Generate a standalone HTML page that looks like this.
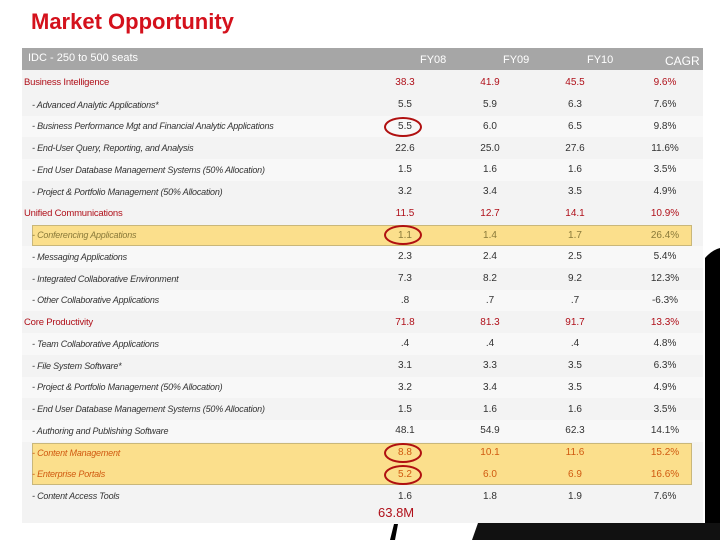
<!DOCTYPE html>
<html><head><meta charset="utf-8"><style>
body{margin:0;width:720px;height:540px;background:#fff;position:relative;overflow:hidden;font-family:"Liberation Sans",sans-serif}
.abs{position:absolute}
.row{position:absolute;left:22px;width:681px;height:21.75px}
.cell{position:absolute;top:0;height:100%;display:flex;align-items:center;font-size:10px;color:#333}
.lab{left:10px;font-size:9px;font-style:italic;letter-spacing:-0.2px}
.num{width:60px;justify-content:center}
.cat .cell{color:#b0101a}
.cat .lab{font-style:normal;font-size:9.5px;left:2px}
.hl{position:absolute;left:32px;width:660px;background:#fbdf8c;border:1px solid #c9b77a;box-sizing:border-box}
.circ{position:absolute;width:38px;height:20px;border:2px solid #b01010;border-radius:50%;box-sizing:border-box}
</style></head><body>
<div class="abs" style="left:31px;top:9px;font-size:22px;font-weight:bold;color:#d4111c">Market Opportunity</div>
<div class="abs" style="left:22px;top:70px;width:681px;height:453px;background:#f3f3f3"></div>
<div class="abs" style="left:22px;top:48px;width:681px;height:22px;background:#a6a6a6;color:#fff;font-size:11px">
 <span class="abs" style="left:6px;top:4px">IDC - 250 to 500 seats</span>
 <span class="abs" style="left:398px;top:6px">FY08</span>
 <span class="abs" style="left:481px;top:6px">FY09</span>
 <span class="abs" style="left:565px;top:6px">FY10</span>
 <span class="abs" style="left:643px;top:6px;font-size:12px">CAGR</span>
</div>
<div id="tbl"></div>
<div class="abs" style="left:378px;top:505px;font-size:13px;color:#b0101a">63.8M</div>
<svg class="abs" style="left:0;top:0" width="720" height="540">
<path d="M705,258 Q712,250 720,248 L720,540 L705,540 Z" fill="#000"/>
<path d="M472,540 L478,523 L720,523 L720,540 Z" fill="#111"/>
<path d="M390,540 L394,524 L398,524 L395,540 Z" fill="#000"/>
</svg>
<script>
const labels=["Business Intelligence","- Advanced Analytic Applications*","- Business Performance Mgt and Financial Analytic Applications","- End-User Query, Reporting, and Analysis","- End User Database Management Systems (50% Allocation)","- Project & Portfolio Management (50% Allocation)","Unified Communications","- Conferencing Applications","- Messaging Applications","- Integrated Collaborative Environment","- Other Collaborative Applications","Core Productivity","- Team Collaborative Applications","- File System Software*","- Project & Portfolio Management (50% Allocation)","- End User Database Management Systems (50% Allocation)","- Authoring and Publishing  Software","- Content Management","- Enterprise Portals","- Content Access Tools"];
const fy08=["38.3","5.5","5.5","22.6","1.5","3.2","11.5","1.1","2.3","7.3",".8","71.8",".4","3.1","3.2","1.5","48.1","8.8","5.2","1.6"];
const fy09=["41.9","5.9","6.0","25.0","1.6","3.4","12.7","1.4","2.4","8.2",".7","81.3",".4","3.3","3.4","1.6","54.9","10.1","6.0","1.8"];
const fy10=["45.5","6.3","6.5","27.6","1.6","3.5","14.1","1.7","2.5","9.2",".7","91.7",".4","3.5","3.5","1.6","62.3","11.6","6.9","1.9"];
const cagr=["9.6%","7.6%","9.8%","11.6%","3.5%","4.9%","10.9%","26.4%","5.4%","12.3%","-6.3%","13.3%","4.8%","6.3%","4.9%","3.5%","14.1%","15.2%","16.6%","7.6%"];
const categoryRows=[0,6,11];
const highlightRows=[7,17,18];
const circledRows=[2,7,17,18];
const tbl=document.getElementById('tbl');
const top0=72,pitch=21.75;
const yOf=i=>top0+i*pitch;
[[7,7],[17,18]].forEach(([a,b])=>{const h=document.createElement('div');h.className='hl';


h.style.top=(yOf(a)+1)+'px';h.style.height=((b-a+1)*pitch-1)+'px';tbl.appendChild(h);});
labels.forEach((l,i)=>{
 const r=document.createElement('div');r.className='row'+(categoryRows.includes(i)?' cat':'');
 
 
 r.style.top=yOf(i)+'px';
 if(!highlightRows.includes(i)&&!categoryRows.includes(i)&&i%2==0)r.style.background='#f8f8f8';
 const hc=highlightRows.includes(i);
 const col=hc?(i==7?'#8a7a3a':'#d05a10'):null;
 const mk=(cls,txt,left)=>{const c=document.createElement('div');c.className='cell '+cls;c.textContent=txt;if(left!=null)c.style.left=left+'px';if(col)c.style.color=col;r.appendChild(c);return c;};
 const lc=mk('lab',l,hc?10:null);
 
 const vals=[fy08[i],fy09[i],fy10[i],cagr[i]];
 [353,438,523,613].forEach((x,k)=>{const c=mk('num',vals[k],x);
  
 });
 tbl.appendChild(r);
});
circledRows.forEach(i=>{const c=document.createElement('div');c.className='circ';


c.style.left='384px';c.style.top=(yOf(i)+1)+'px';tbl.appendChild(c);});
</script>
</body></html>
